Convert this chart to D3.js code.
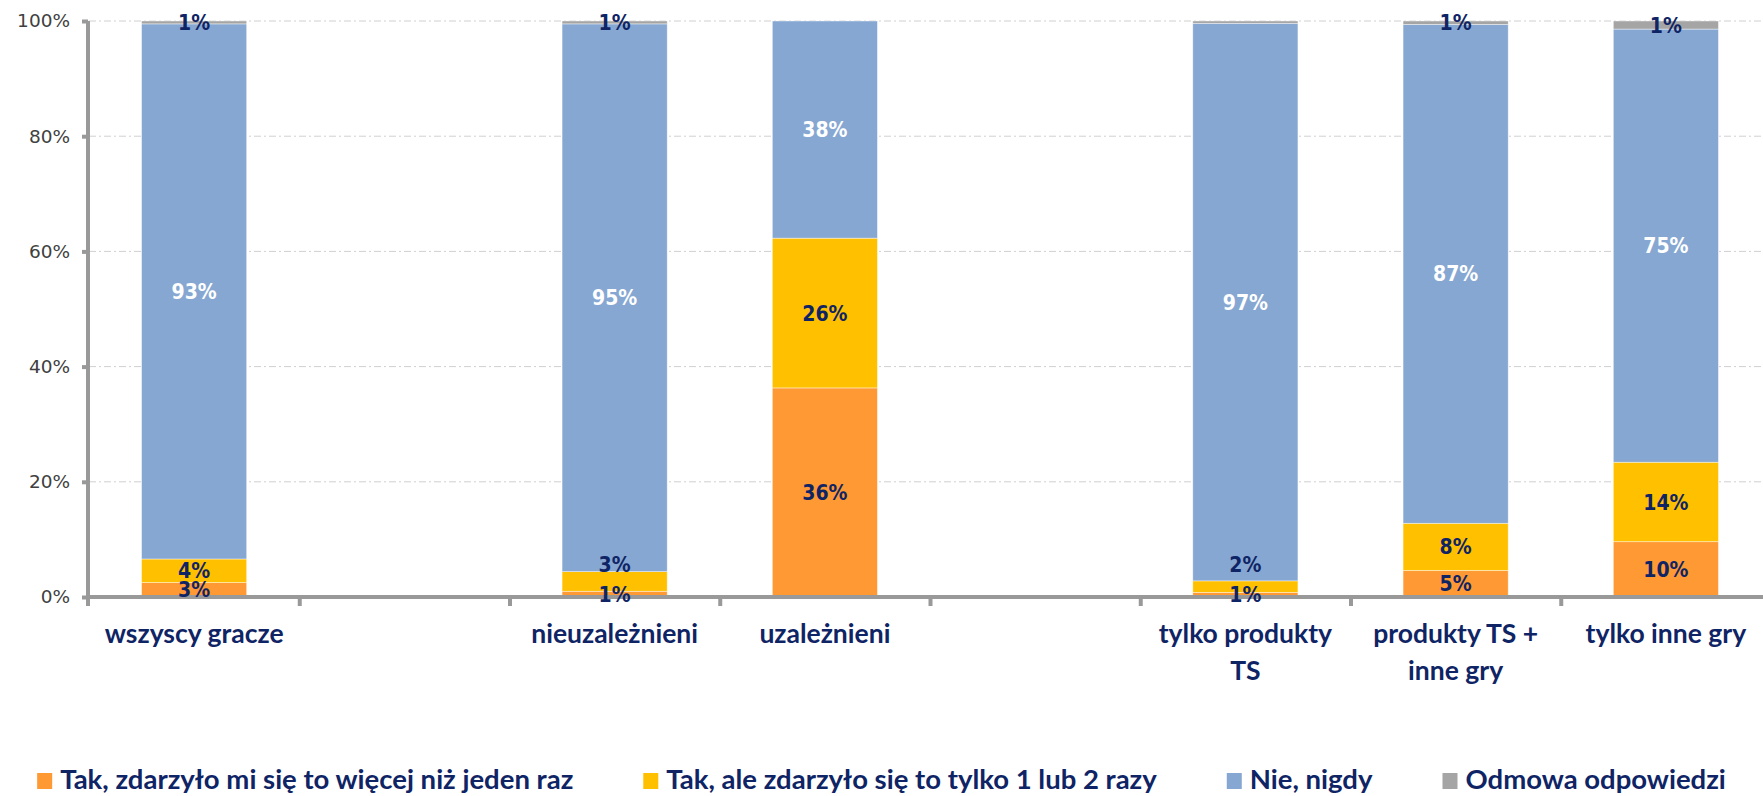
<!DOCTYPE html>
<html lang="pl">
<head>
<meta charset="UTF-8">
<title>Czy zdarzyło się - wykres słupkowy</title>
<script src="https://d3js.org/d3.v7.min.js"></script>
<style>
    body { margin: 0; background: #fff; }
    svg { display: block; }
    .ylab { font-family: "DejaVu Sans", sans-serif; font-size: 18.5px; fill: #404040; }
    .val { font-family: "DejaVu Sans Condensed", "DejaVu Sans", sans-serif; font-weight: bold; font-size: 21px; }
    .cat { font-family: Lato, "Open Sans", sans-serif; font-weight: bold; font-size: 26.5px; fill: #0f2465; }
    .leg { font-family: Lato, "Open Sans", sans-serif; font-weight: bold; font-size: 27.5px; fill: #0f2465; }
</style>
</head>
<body>
<script>
// categories (null = empty slot on the axis)
const categories = ["wszyscy gracze", null, "nieuzależnieni", "uzależnieni", null,
                    "tylko produkty TS", "produkty TS + inne gry", "tylko inne gry"];

const seriesNames = ["Tak, zdarzyło mi się to więcej niż jeden raz",
                     "Tak, ale zdarzyło się to tylko 1 lub 2 razy",
                     "Nie, nigdy",
                     "Odmowa odpowiedzi"];
const seriesColors = ["#FF9933", "#FFC000", "#86A7D2", "#A5A5A5"];
const labelColors = ["#0f2465", "#0f2465", "#ffffff", "#0f2465"];

// values in %
const moreThanOnce = [2.5, null, 1.0, 36.3, null, 0.8, 4.6, 9.6];
const onceOrTwice  = [4.1, null, 3.4, 26.0, null, 2.0, 8.2, 13.8];
const never        = [92.9, null, 95.1, 37.7, null, 96.8, 86.6, 75.2];
const refused      = [0.5, null, 0.5, 0.0, null, 0.4, 0.6, 1.4];

const yTicks = [0, 20, 40, 60, 80, 100];

const W = 1763, H = 796;
const plotTop = 21, plotBottom = 597, plotLeft = 89, plotRight = 1771;

const svg = d3.select("body").append("svg")
    .attr("width", W)
    .attr("height", H);

const x = d3.scaleBand()
    .domain(d3.range(categories.length))
    .range([plotLeft, plotRight])
    .paddingInner(0.5)
    .paddingOuter(0.25);
const xSlot = d3.scaleLinear().domain([0, categories.length]).range([plotLeft, plotRight]);
const y = d3.scaleLinear().domain([0, 100]).range([plotBottom, plotTop]);

// gridlines
svg.append("g")
    .selectAll("line")
    .data(yTicks.filter(d => d > 0))
    .join("line")
    .attr("x1", plotLeft)
    .attr("x2", W)
    .attr("y1", d => y(d))
    .attr("y2", d => y(d))
    .attr("stroke", "#d0d0d0")
    .attr("stroke-width", 1)
    .attr("stroke-dasharray", "7,3,2,3");

// stacked data
const keys = ["s0", "s1", "s2", "s3"];
const rows = categories.map((c, i) => ({
    i: i, name: c,
    s0: moreThanOnce[i], s1: onceOrTwice[i], s2: never[i], s3: refused[i]
})).filter(d => d.name !== null);

const stacked = d3.stack().keys(keys)(rows);

const layers = svg.append("g")
    .selectAll("g")
    .data(stacked)
    .join("g")
    .attr("fill", (d, k) => seriesColors[k]);

layers.selectAll("rect")
    .data(d => d)
    .join("rect")
    .attr("x", d => x(d.data.i))
    .attr("width", x.bandwidth())
    .attr("y", d => y(d[1]))
    .attr("height", d => y(d[0]) - y(d[1]))
    .attr("stroke", "#ffffff")
    .attr("stroke-opacity", 0.6)
    .attr("stroke-width", 0.7);

// axes
const yAxis = svg.append("g")
    .attr("transform", "translate(88,0)")
    .call(d3.axisLeft(y).tickValues(yTicks).tickFormat(d => d + "%")
        .tickSizeInner(6).tickSizeOuter(0).tickPadding(12));
yAxis.select(".domain").attr("stroke", "#999").attr("stroke-width", 4)
    .attr("d", "M0," + (plotTop) + "V" + (plotBottom + 9));
yAxis.selectAll(".tick line").attr("stroke", "#999").attr("stroke-width", 4);
yAxis.selectAll(".tick text").attr("class", "ylab");

const xAxis = svg.append("g")
    .attr("transform", "translate(0," + plotBottom + ")")
    .call(d3.axisBottom(xSlot).tickValues(d3.range(1, categories.length + 1))
        .tickFormat("").tickSizeInner(9).tickSizeOuter(0));
xAxis.select(".domain").attr("stroke", "#999").attr("stroke-width", 4)
    .attr("d", "M88,0H" + W);
xAxis.selectAll(".tick line").attr("stroke", "#999").attr("stroke-width", 4);

// value labels (small stacked segments get their label nudged upward)
const labels = [];
rows.forEach((r, ri) => {
    let prevY = null;
    stacked.forEach((layer, k) => {
        const seg = layer[ri];
        const v = seg[1] - seg[0];
        if (Math.round(v) <= 0) return;
        let cy = y((seg[0] + seg[1]) / 2);
        if (prevY !== null && prevY - cy < 16) cy = prevY - 30;
        prevY = cy;
        labels.push({x: x(r.i) + x.bandwidth() / 2, y: cy, text: Math.round(v) + "%", k: k});
    });
});

svg.append("g")
    .selectAll("text")
    .data(labels)
    .join("text")
    .attr("class", "val")
    .attr("x", d => d.x)
    .attr("y", d => d.y)
    .attr("dy", "0.36em")
    .attr("text-anchor", "middle")
    .attr("fill", d => labelColors[d.k])
    .text(d => d.text);

// category labels, wrapped
const catG = svg.append("g");
rows.forEach(r => {
    const cx = x(r.i) + x.bandwidth() / 2;
    const t = catG.append("text")
        .attr("class", "cat")
        .attr("text-anchor", "middle")
        .attr("x", cx)
        .attr("y", 643);
    const words = r.name.split(" ");
    let line = [];
    let tspan = t.append("tspan").attr("x", cx).attr("dy", 0);
    words.forEach(w => {
        line.push(w);
        tspan.text(line.join(" "));
        if (tspan.node().getComputedTextLength() > 200 && line.length > 1) {
            line.pop();
            tspan.text(line.join(" "));
            line = [w];
            tspan = t.append("tspan").attr("x", cx).attr("dy", 37).text(w);
        }
    });
});

// legend, centered
const legend = svg.append("g");
const items = legend.selectAll("g")
    .data(seriesNames)
    .join("g");
items.append("rect")
    .attr("width", 15)
    .attr("height", 16)
    .attr("y", 773)
    .attr("fill", (d, i) => seriesColors[i]);
items.append("text")
    .attr("class", "leg")
    .attr("x", 23)
    .attr("y", 789)
    .text(d => d);

const gap = 70;
const widths = [];
items.each(function() {
    widths.push(23 + d3.select(this).select("text").node().getComputedTextLength());
});
const total = d3.sum(widths) + gap * (widths.length - 1);
let offset = (W - total) / 2;
items.each(function(d, i) {
    d3.select(this).attr("transform", "translate(" + offset + ",0)");
    offset += widths[i] + gap;
});
</script>
</body>
</html>
